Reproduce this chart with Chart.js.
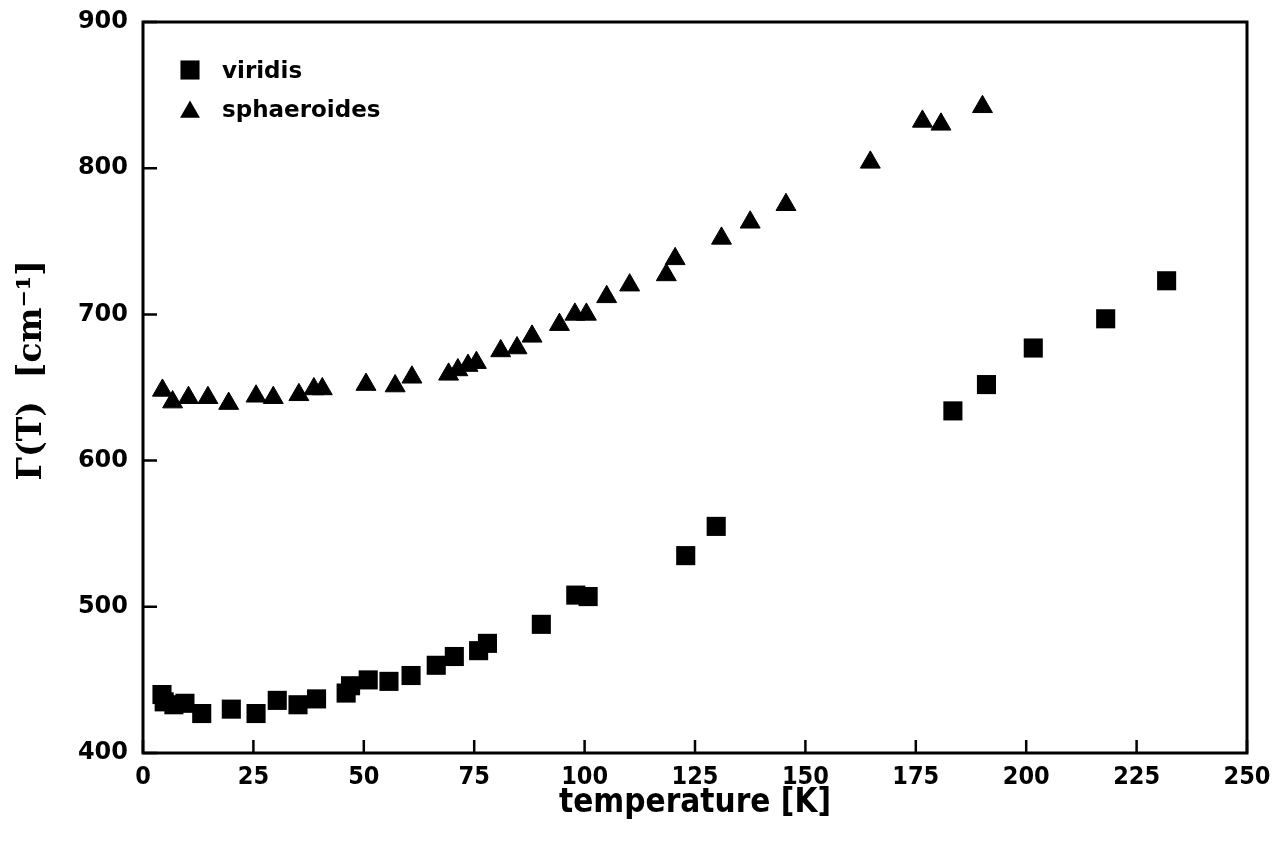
<!DOCTYPE html>
<html>
<head>
<meta charset="utf-8">
<script src="https://cdn.jsdelivr.net/npm/chart.js"></script>
<style>
    body { margin: 0; background: #fff; }
    .chart-box { width: 1282px; height: 855px; }
</style>
</head>
<body>
<div class="chart-box"><canvas id="gammaChart"></canvas></div>

<script>
    // linewidth vs temperature, two species
    var viridisT = [4.3, 4.8, 7, 9.5, 13.3, 20, 25.6, 30.4, 35.1, 39.3, 46, 47, 51, 55.7, 60.7, 66.4, 70.5, 76, 78, 90.2, 98, 100.8, 122.9, 129.8, 183.4, 191, 201.6, 218, 231.8];
    var viridisGamma = [440, 435, 433, 434, 427, 430, 427, 436, 433, 437, 441, 446, 450, 449, 453, 460, 466, 470, 475, 488, 508, 507, 535, 555, 634, 652, 677, 697, 723];

    var sphaeroidesT = [4.4, 6.7, 10.3, 14.7, 19.4, 25.6, 29.5, 35.3, 38.7, 40.6, 50.5, 57.1, 60.9, 69.2, 71.3, 73.6, 75.5, 81, 84.7, 88.1, 94.3, 97.8, 100.4, 105, 110.2, 118.5, 120.5, 131, 137.5, 145.6, 164.7, 176.5, 180.7, 190.1];
    var sphaeroidesGamma = [648, 640, 643, 643, 639, 644, 643, 645, 649, 649, 652, 651, 657, 659, 662, 665, 667, 675, 677, 685, 693, 700, 700, 712, 720, 727, 738, 752, 763, 775, 804, 832, 830, 842];

    var tempTicks = [0, 25, 50, 75, 100, 125, 150, 175, 200, 225, 250];
    var gammaTicks = [400, 500, 600, 700, 800, 900];

    function toPoints(xs, ys) {
        return xs.map(function(x, i) { return { x: x, y: ys[i] }; });
    }

    // box around the plot, inward tick marks and the legend in the corner
    var framePlugin = {
        id: 'frame',
        afterDraw: function(chart) {
            var ctx = chart.ctx;
            var a = chart.chartArea;
            var xs = chart.scales.x;
            var ys = chart.scales.y;
            ctx.save();
            ctx.strokeStyle = '#000';
            ctx.lineWidth = 2.5;
            ctx.beginPath();
            xs.ticks.forEach(function(t) {
                var px = xs.getPixelForValue(t.value);
                ctx.moveTo(px, a.bottom);
                ctx.lineTo(px, a.bottom - 13);
            });
            ys.ticks.forEach(function(t) {
                var py = ys.getPixelForValue(t.value);
                ctx.moveTo(a.left, py);
                ctx.lineTo(a.left + 14, py);
            });
            ctx.stroke();
            ctx.lineWidth = 3;
            ctx.strokeRect(a.left, a.top, a.right - a.left, a.bottom - a.top);

            ctx.fillStyle = '#000';
            ctx.font = 'bold 23px "DejaVu Sans"';
            ctx.textBaseline = 'alphabetic';
            chart.data.datasets.forEach(function(ds, i) {
                var cy = a.top + 48 + i * 42;
                Chart.helpers.drawPoint(ctx, {
                    pointStyle: ds.pointStyle,
                    radius: ds.pointRadius,
                    borderWidth: 0,
                    rotation: 0
                }, a.left + 47, cy);
                ctx.fillText(ds.label, a.left + 79, a.top + 56 + i * 39);
            });
            ctx.restore();
        }
    };

    new Chart(document.getElementById('gammaChart'), {
        type: 'scatter',
        data: {
            datasets: [{
                label: 'viridis',
                data: toPoints(viridisT, viridisGamma),
                pointStyle: 'rect',
                pointRadius: 13.5,
                backgroundColor: '#000',
                borderColor: '#000',
                borderWidth: 0
            }, {
                label: 'sphaeroides',
                data: toPoints(sphaeroidesT, sphaeroidesGamma),
                pointStyle: 'triangle',
                pointRadius: 11.5,
                backgroundColor: '#000',
                borderColor: '#000',
                borderWidth: 1
            }]
        },
        options: {
            responsive: true,
            maintainAspectRatio: false,
            animation: false,
            layout: { padding: { top: 22, right: 35, left: 0, bottom: 0 } },
            plugins: {
                legend: { display: false },
                tooltip: { enabled: false }
            },
            scales: {
                x: {
                    type: 'linear',
                    min: 0,
                    max: 250,
                    afterBuildTicks: function(s) { s.ticks = tempTicks.map(function(v) { return { value: v }; }); },
                    afterFit: function(s) { s.height = 102; },
                    grid: { display: false, drawTicks: false },
                    border: { display: false },
                    ticks: {
                        color: '#000',
                        font: { family: '"DejaVu Sans Condensed", "DejaVu Sans"', weight: 'bold', size: 25 },
                        padding: 9,
                        maxRotation: 0,
                        autoSkip: false
                    },
                    title: {
                        display: true,
                        text: 'temperature [K]',
                        color: '#000',
                        font: { family: '"DejaVu Sans Condensed", "DejaVu Sans"', weight: 'bold', size: 33 },
                        padding: { top: 0, bottom: 32 }
                    }
                },
                y: {
                    type: 'linear',
                    min: 400,
                    max: 900,
                    afterBuildTicks: function(s) { s.ticks = gammaTicks.map(function(v) { return { value: v }; }); },
                    afterFit: function(s) {
                        s.width = 143;
                        // top label may hang above the frame, like the printed axis
                        s.paddingTop = 0;
                        s.paddingBottom = 0;
                    },
                    grid: { display: false, drawTicks: false },
                    border: { display: false },
                    ticks: {
                        color: '#000',
                        font: { family: 'DejaVu Sans', weight: 'bold', size: 24 },
                        padding: 15,
                        autoSkip: false
                    },
                    title: {
                        display: true,
                        text: '   Γ(T)  [cm⁻¹]',
                        color: '#000',
                        font: { family: 'DejaVu Serif', weight: 'bold', size: 33 },
                        padding: { top: 13, bottom: 0 }
                    }
                }
            }
        },
        plugins: [framePlugin]
    });
</script>
</body>
</html>
